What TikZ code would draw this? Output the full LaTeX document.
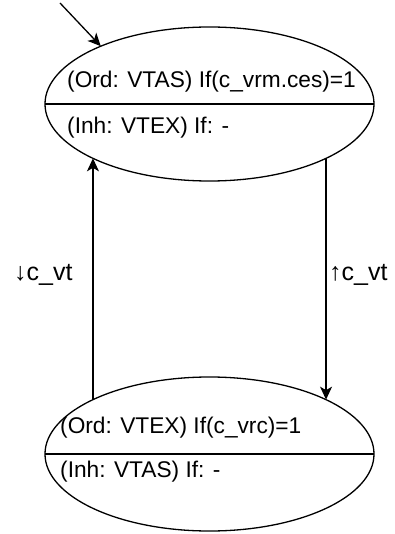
\documentclass[tikz,border=0pt]{standalone}
\usepackage{fontspec}
\setmainfont{Liberation Sans}
\usetikzlibrary{shapes.geometric,arrows.meta}
\begin{document}
\begin{tikzpicture}[x=1pt,y=-1pt,
  state/.style={draw,ellipse,line width=1.3pt,minimum width=329pt,minimum height=154pt,inner sep=0pt,outer sep=0pt},
  txt/.style={anchor=base west,inner sep=0pt,font=\fontsize{22.7}{27}\selectfont},
  lbl/.style={anchor=base west,inner sep=0pt,font=\fontsize{25}{30}\selectfont},
  arr/.style={line width=1.3pt,-{Stealth[length=13pt,width=12pt,inset=3.5pt]}}]
\useasboundingbox (0,0) rectangle (395,534);
\node[state] (top) at (209.5,104) {};
\node[state] (bot) at (209.5,454) {};
\draw[line width=1.3pt] (top.west) -- (top.east);
\draw[line width=1.3pt] (bot.west) -- (bot.east);
\node[txt] (t1) at (67,88) {(Ord: VTAS) If(c\_vrm.ces)=1};
\node[txt] (t2) at (67,134) {(Inh: VTEX) If: -};
\node[txt] (b1) at (60,433) {(Ord: VTEX) If(c\_vrc)=1};
\node[txt] (b2) at (60,477) {(Inh: VTAS) If: -};
\coordinate (start) at (60,3);
\draw[arr] (start) -- (top.152);
\draw[arr] (bot.155) -- (top.-155);
\draw[arr] (top.-25) -- (bot.25);
\node[lbl] (l1) at (14,280) {↓c\_vt};
\node[lbl] (l2) at (329,280) {↑c\_vt};
\end{tikzpicture}
\end{document}
